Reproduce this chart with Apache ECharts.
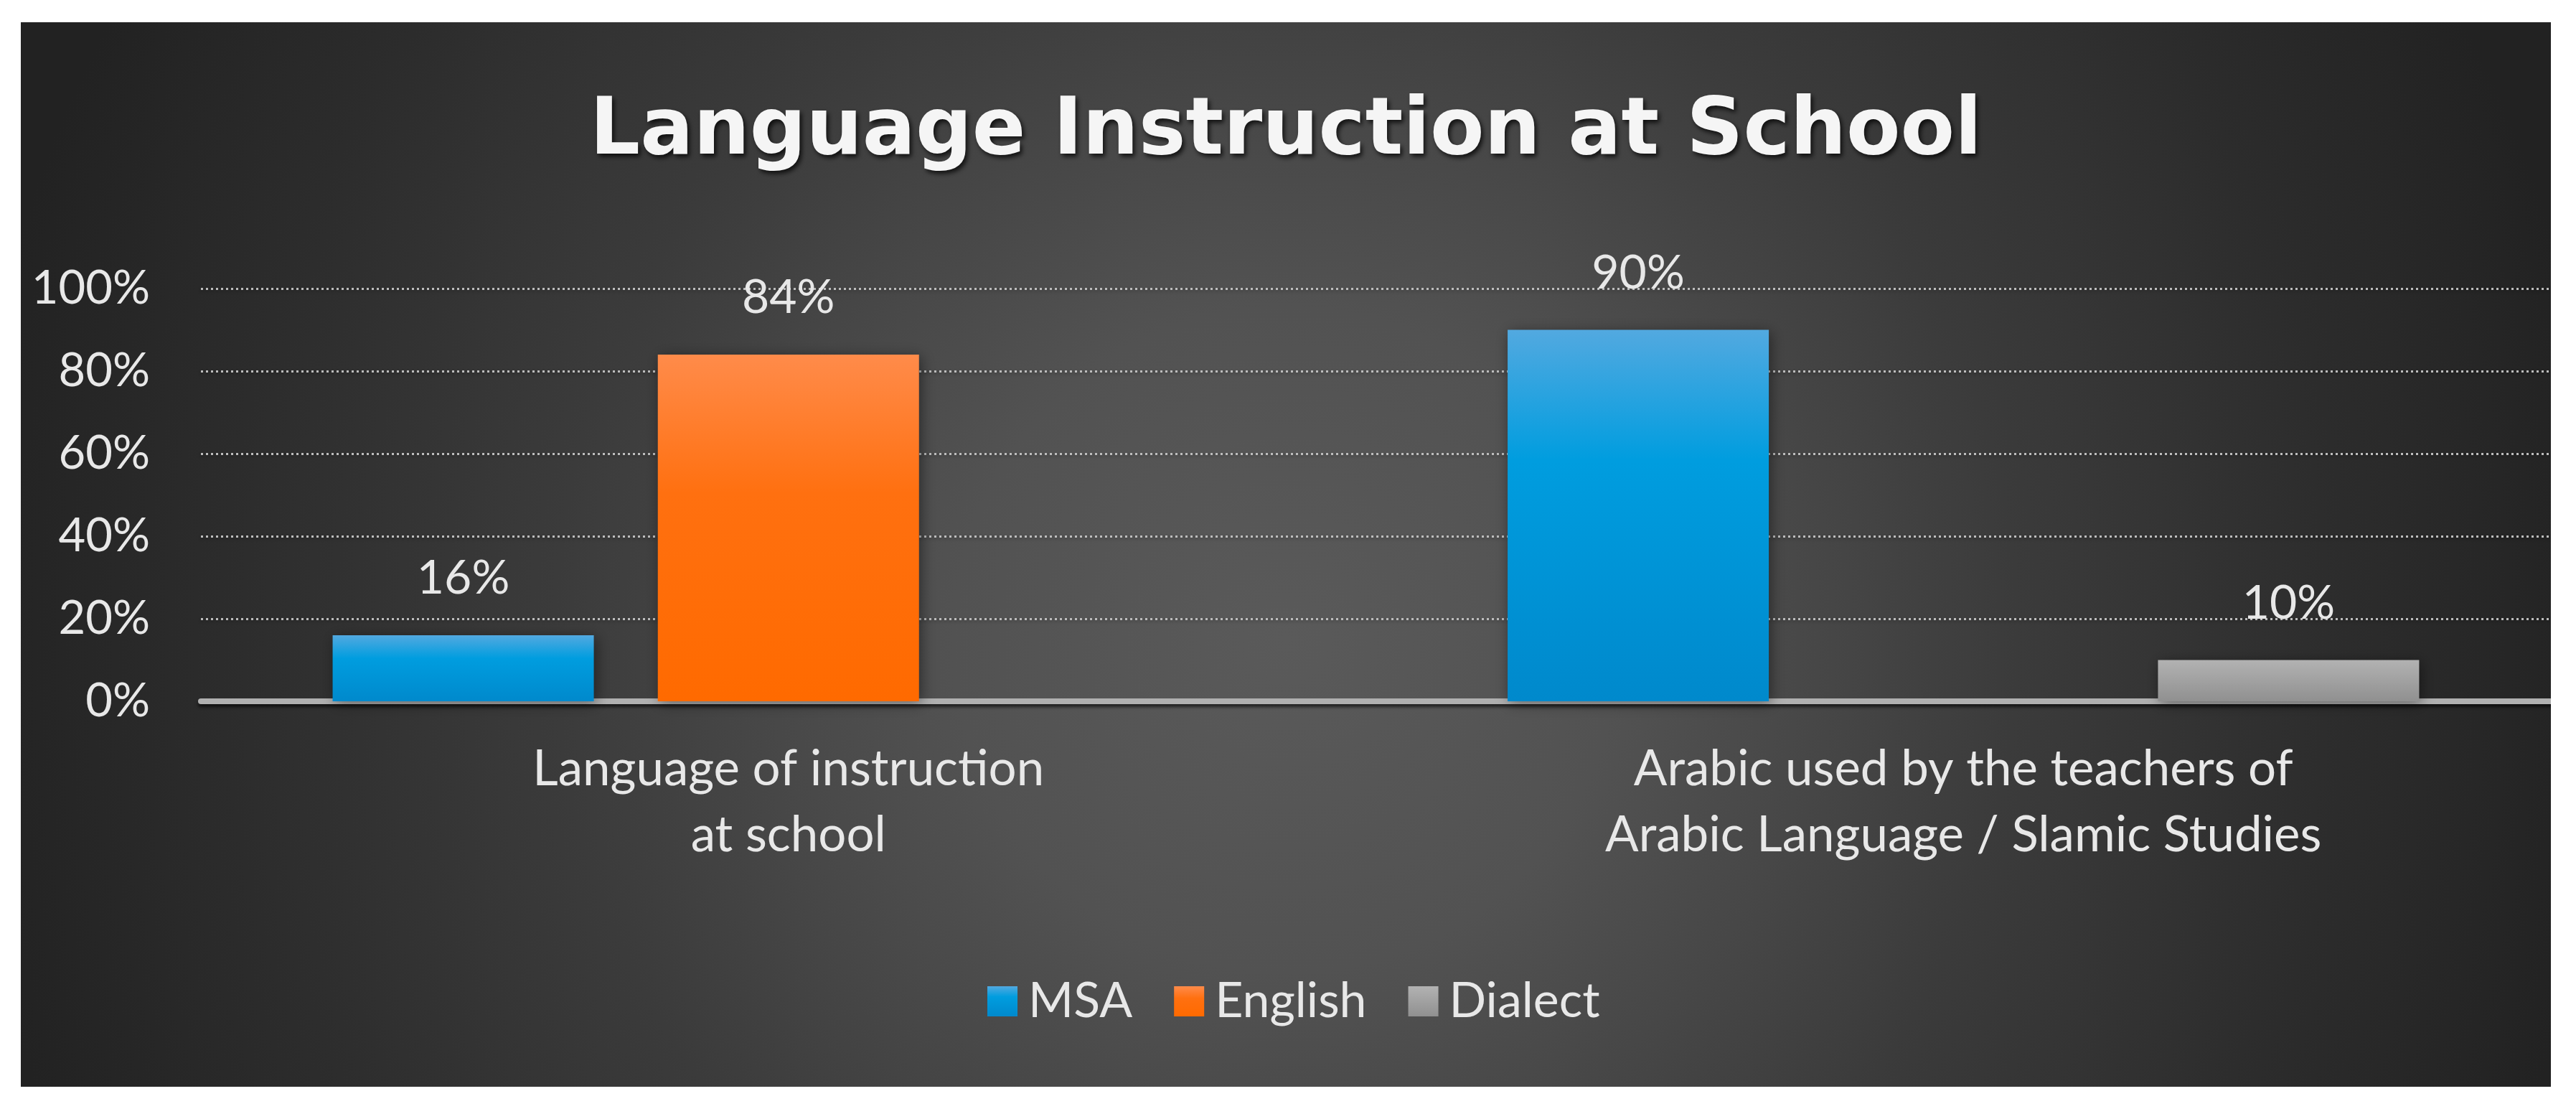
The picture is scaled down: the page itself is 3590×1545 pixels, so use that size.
<!DOCTYPE html>
<html>
<head>
<meta charset="utf-8">
<title>Language Instruction at School</title>
<script src="https://cdn.jsdelivr.net/npm/echarts@6/dist/echarts.min.js"></script>
<style>
    html, body { margin: 0; padding: 0; background: #fff; }
    #storage { position: absolute; left: 29px; top: 31px; width: 3526px; height: 1483px; }
</style>
</head>
<body>
<div id="storage"></div>
<script>
var titleText = "Language Instruction at School";
var categories = ["Language of instruction\nat school", "Arabic used by the teachers of\nArabic Language / Slamic Studies"];
var seriesNames = ["MSA", "English", "Dialect"];
var msaValues = [16, 90];
var englishValues = [84, null];
var dialectValues = [null, 10];
var axisMin = 0, axisMax = 100, axisStep = 20;

var page = {
    init: function () {
        page.initChart();
    },
    // vertical gradient for a bar
    barColor: function (stops) {
        return {
            type: "linear", x: 0, y: 0, x2: 0, y2: 1,
            colorStops: stops
        };
    },
    makeSeries: function (name, data, stops) {
        return {
            name: name,
            type: "bar",
            data: data,
            barWidth: 364,
            barGap: "24.5%",
            itemStyle: {
                color: page.barColor(stops),
                shadowColor: "rgba(0,0,0,0.45)",
                shadowBlur: 18,
                shadowOffsetX: 3,
                shadowOffsetY: 3
            },
            label: {
                show: true,
                position: "top",
                distance: 40,
                formatter: "{c}%",
                color: "#e8e8e8",
                fontSize: 66,
                lineHeight: 78
            }
        };
    },
    initChart: function () {
        var storage = echarts.init(document.getElementById("storage"));
        var options = {
            backgroundColor: {
                type: "radial", x: 0.5, y: 0.58, r: 1.25,
                colorStops: [
                    { offset: 0, color: "#5a5a5a" },
                    { offset: 0.25, color: "#525252" },
                    { offset: 0.4, color: "#474747" },
                    { offset: 0.55, color: "#3b3b3b" },
                    { offset: 0.8, color: "#2c2c2c" },
                    { offset: 1, color: "#222222" }
                ]
            },
            textStyle: { fontFamily: "Lato" },
            title: {
                text: titleText,
                left: "center",
                top: 89,
                textStyle: {
                    fontFamily: "DejaVu Sans",
                    fontWeight: "bold",
                    fontSize: 110,
                    lineHeight: 120,
                    color: "#f5f5f5",
                    textShadowColor: "rgba(0,0,0,0.75)",
                    textShadowBlur: 6,
                    textShadowOffsetX: 3,
                    textShadowOffsetY: 4
                }
            },
            legend: {
                data: seriesNames,
                left: 1342,
                top: 1325,
                itemWidth: 42,
                itemHeight: 42,
                itemGap: 58,
                icon: "rect",
                textStyle: {
                    color: "#e8e8e8",
                    fontSize: 68,
                    lineHeight: 42,
                    padding: [0, 0, 0, 10]
                }
            },
            grid: {
                left: 251,
                right: 0,
                top: 371,
                bottom: 537,
                containLabel: false
            },
            xAxis: [
                {
                    type: "category",
                    data: categories,
                    axisTick: { show: false },
                    axisLine: {
                        lineStyle: {
                            color: "#b0b0b0",
                            width: 8,
                            shadowColor: "rgba(0,0,0,0.6)",
                            shadowBlur: 4,
                            shadowOffsetY: 4
                        }
                    },
                    axisLabel: {
                        interval: 0,
                        color: "#e8e8e8",
                        fontSize: 69,
                        lineHeight: 92,
                        margin: 49,
                        align: "center"
                    }
                }
            ],
            yAxis: [
                {
                    type: "value",
                    min: axisMin,
                    max: axisMax,
                    interval: axisStep,
                    axisLine: { show: false },
                    axisTick: { show: false },
                    axisLabel: {
                        formatter: "{value}%",
                        color: "#e8e8e8",
                        fontSize: 65,
                        margin: 71
                    },
                    splitLine: {
                        lineStyle: {
                            color: "#bdbdbd",
                            width: 3,
                            type: [3, 4],
                            shadowColor: "rgba(0,0,0,0.35)",
                            shadowBlur: 4,
                            shadowOffsetY: 2
                        }
                    }
                }
            ],
            series: [
                page.makeSeries(seriesNames[0], msaValues, [
                    { offset: 0, color: "#52a9e0" },
                    { offset: 0.35, color: "#009ddf" },
                    { offset: 1, color: "#0089cc" }
                ]),
                page.makeSeries(seriesNames[1], englishValues, [
                    { offset: 0, color: "#ff8b4a" },
                    { offset: 0.4, color: "#ff7010" },
                    { offset: 1, color: "#ff6a00" }
                ]),
                page.makeSeries(seriesNames[2], dialectValues, [
                    { offset: 0, color: "#b2b2b2" },
                    { offset: 1, color: "#909090" }
                ])
            ]
        };
        storage.setOption(options, true);
    }
};

page.init();
</script>
</body>
</html>
